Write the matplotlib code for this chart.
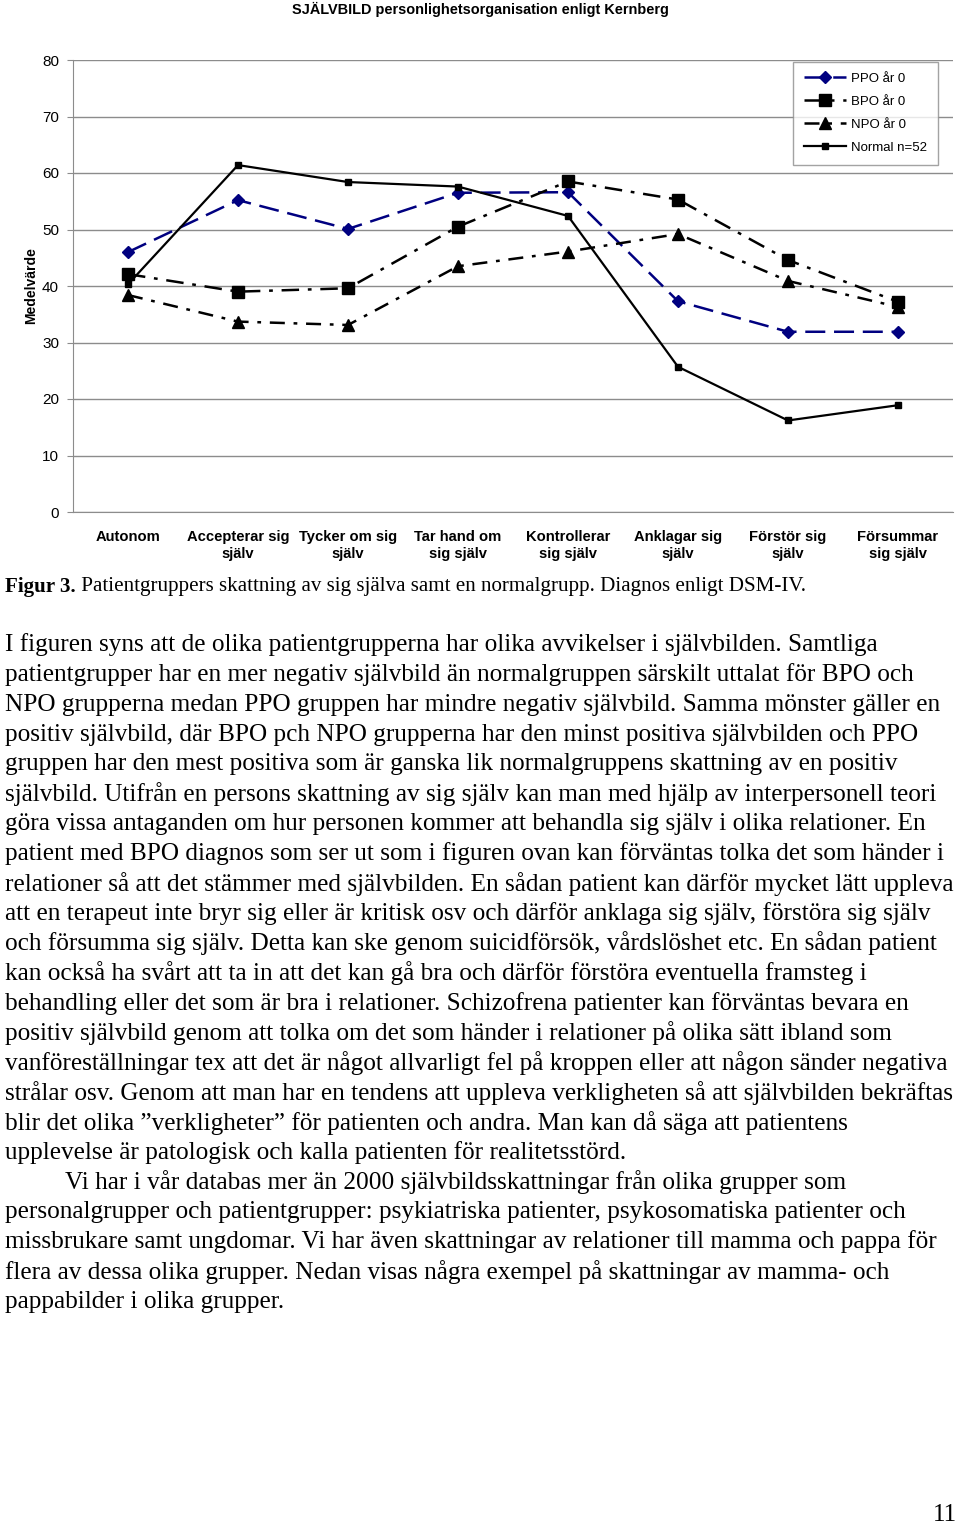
import matplotlib
matplotlib.use("Agg")
import matplotlib.pyplot as plt

categories = ["Autonom", "Accepterar sig\nsjälv", "Tycker om sig\nsjälv", "Tar hand om\nsig själv",
              "Kontrollerar\nsig själv", "Anklagar sig\nsjälv", "Förstör sig\nsjälv", "Försummar\nsig själv"]
ppo = [46.0, 55.2, 50.1, 56.5, 56.6, 37.3, 31.9, 31.9]
bpo = [42.1, 39.0, 39.6, 50.5, 58.5, 55.3, 44.6, 37.2]
npo = [38.4, 33.7, 33.1, 43.5, 46.1, 49.2, 40.9, 36.3]
normal = [40.3, 61.4, 58.4, 57.6, 52.4, 25.7, 16.2, 18.9]
series_names = ["PPO år 0", "BPO år 0", "NPO år 0", "Normal n=52"]
yticks = [0, 10, 20, 30, 40, 50, 60, 70, 80]

title = "SJÄLVBILD personlighetsorganisation enligt Kernberg"
caption_bold = "Figur 3."
caption_rest = " Patientgruppers skattning av sig själva samt en normalgrupp. Diagnos enligt DSM-IV."
para = [
    "I figuren syns att de olika patientgrupperna har olika avvikelser i självbilden. Samtliga",
    "patientgrupper har en mer negativ självbild än normalgruppen särskilt uttalat för BPO och",
    "NPO grupperna medan PPO gruppen har mindre negativ självbild. Samma mönster gäller en",
    "positiv självbild, där BPO pch NPO grupperna har den minst positiva självbilden och PPO",
    "gruppen har den mest positiva som är ganska lik normalgruppens skattning av en positiv",
    "självbild. Utifrån en persons skattning av sig själv kan man med hjälp av interpersonell teori",
    "göra vissa antaganden om hur personen kommer att behandla sig själv i olika relationer. En",
    "patient med BPO diagnos som ser ut som i figuren ovan kan förväntas tolka det som händer i",
    "relationer så att det stämmer med självbilden. En sådan patient kan därför mycket lätt uppleva",
    "att en terapeut inte bryr sig eller är kritisk osv och därför anklaga sig själv, förstöra sig själv",
    "och försumma sig själv. Detta kan ske genom suicidförsök, vårdslöshet etc. En sådan patient",
    "kan också ha svårt att ta in att det kan gå bra och därför förstöra eventuella framsteg i",
    "behandling eller det som är bra i relationer. Schizofrena patienter kan förväntas bevara en",
    "positiv självbild genom att tolka om det som händer i relationer på olika sätt ibland som",
    "vanföreställningar tex att det är något allvarligt fel på kroppen eller att någon sänder negativa",
    "strålar osv. Genom att man har en tendens att uppleva verkligheten så att självbilden bekräftas",
    "blir det olika ”verkligheter” för patienten och andra. Man kan då säga att patientens",
    "upplevelse är patologisk och kalla patienten för realitetsstörd.",
    "Vi har i vår databas mer än 2000 självbildsskattningar från olika grupper som",
    "personalgrupper och patientgrupper: psykiatriska patienter, psykosomatiska patienter och",
    "missbrukare samt ungdomar. Vi har även skattningar av relationer till mamma och pappa för",
    "flera av dessa olika grupper. Nedan visas några exempel på skattningar av mamma- och",
    "pappabilder i olika grupper.",
]

W, H = 960, 1527
fig = plt.figure(figsize=(W / 100, H / 100), dpi=100)
fig.patch.set_facecolor("white")

def fx(px):
    return px / W

def fy(py):
    return 1 - py / H

ax = fig.add_axes([fx(73), fy(512), fx(953) - fx(73), fy(60) - fy(512)])
x = list(range(len(categories)))

ax.plot(x, ppo, color="#000080", lw=1.8, dashes=[8, 3.5], marker="D", ms=6.5,
        markerfacecolor="#000080", markeredgecolor="#000080", label=series_names[0], zorder=3)
ax.plot(x, bpo, color="black", lw=1.8, dashes=[7, 3.5, 1.5, 3.5], marker="s", ms=8.5,
        markerfacecolor="black", label=series_names[1], zorder=3)
ax.plot(x, npo, color="black", lw=1.8, dashes=[6, 3.5, 1.5, 3.5], marker="^", ms=8.5,
        markerfacecolor="black", label=series_names[2], zorder=3)
ax.plot(x, normal, color="black", lw=1.6, marker="s", ms=5,
        markerfacecolor="black", label=series_names[3], zorder=3)

ax.set_xlim(-0.5, len(categories) - 0.5)
ax.set_ylim(0, 80)
ax.set_yticks(yticks)
ax.set_yticklabels([str(v) for v in yticks], fontsize=11, family="Liberation Sans")
ax.yaxis.grid(True, color="#8c8c8c", lw=1.0)
ax.set_axisbelow(True)
for s in ["top", "right"]:
    ax.spines[s].set_visible(False)
ax.spines["left"].set_color("#8c8c8c")
ax.spines["bottom"].set_color("#8c8c8c")
ax.tick_params(axis="y", length=4, color="#8c8c8c", pad=6)
ax.tick_params(axis="x", length=0, pad=13)
ax.set_xticks(x)
ax.set_xticklabels(categories, fontsize=10.6, fontweight="bold", family="Liberation Sans")
for t in ax.get_xticklabels():
    t.set_linespacing(1.3)
ax.set_ylabel("Medelvärde", fontsize=10, fontweight="bold", family="Liberation Sans", labelpad=3)

leg = ax.legend(loc="upper right", bbox_to_anchor=(fx(938 - 73) / (fx(953) - fx(73)), 1.0 - 2 / 452),
                prop={"family": "Liberation Sans", "size": 9.5}, frameon=True, fancybox=False,
                edgecolor="#8c8c8c", handlelength=3.2, labelspacing=0.82, borderpad=0.8,
                handletextpad=0.4, borderaxespad=0.0)
leg.get_frame().set_linewidth(1.0)

fig.text(0.5, fy(9), title, ha="center", va="center", fontsize=10.45, fontweight="bold",
         family="Liberation Sans")

serif = "Liberation Serif"
renderer = fig.canvas.get_renderer()
cb = fig.text(fx(5), fy(587), caption_bold, ha="left", va="center", fontsize=15.1,
              fontweight="bold", family=serif)
bb = cb.get_window_extent(renderer=renderer)
fig.text(bb.x1 / W, fy(587), caption_rest, ha="left", va="center", fontsize=15.1, family=serif)

y0 = 645
step = 29.85
for i, line in enumerate(para):
    xpos = 65 if line.startswith("Vi har i vår") else 5
    fig.text(fx(xpos), fy(y0 + i * step), line, ha="left", va="center", fontsize=18.15, family=serif)

fig.text(fx(957), fy(1515), "11", ha="right", va="center", fontsize=18, family=serif)

fig.savefig("out.png", dpi=100)
